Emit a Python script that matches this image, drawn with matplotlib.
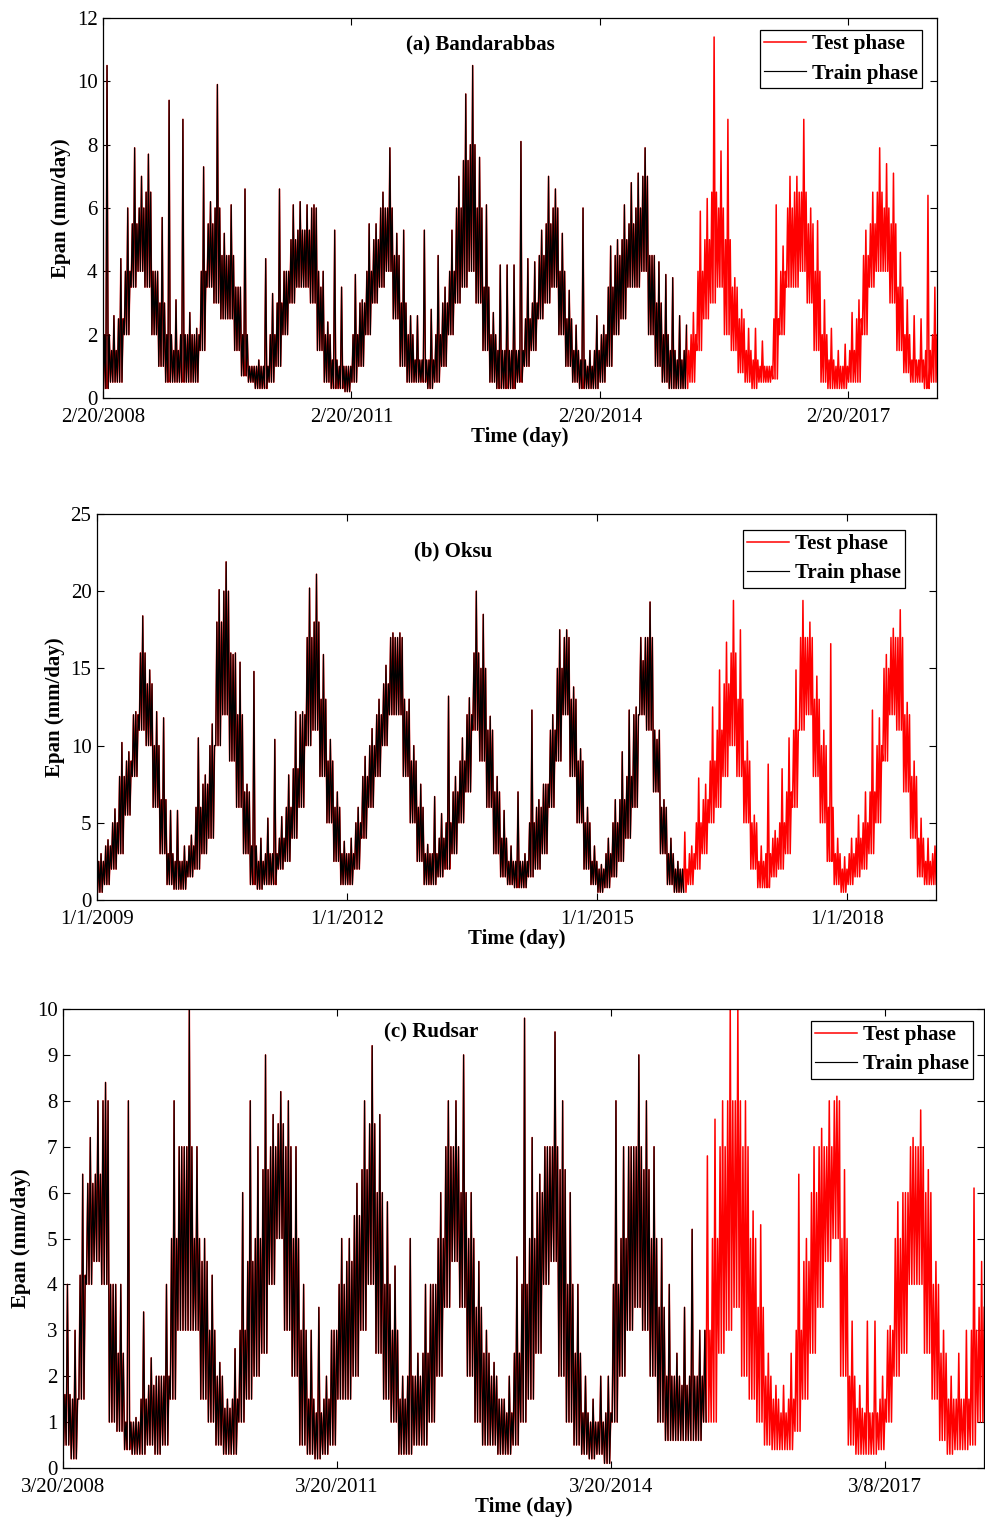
import numpy as np
from matplotlib import pyplot as plt

plt.rcParams['font.family'] = ['Liberation Serif', 'DejaVu Serif']
plt.rcParams['font.size'] = 15

# monthly readings: spike top, usual band top, usual band bottom (mm/day)
peak_a = [10.5, 2.6, 4.4, 6.0, 7.9, 7.0, 7.7, 4.0, 5.7, 9.4,
          3.1, 8.8, 2.7, 2.2, 7.3, 6.2, 9.9, 5.2, 6.1, 3.5,
          6.6, 1.0, 1.2, 4.4, 3.3, 6.6, 4.0, 6.1, 6.2, 6.1,
          6.1, 3.5, 2.4, 5.3, 3.5, 1.0, 3.9, 3.1, 5.5, 5.5,
          6.5, 7.9, 5.2, 5.3, 2.6, 2.6, 5.3, 2.8, 4.5, 3.5,
          5.3, 7.0, 9.6, 10.5, 7.6, 6.1, 2.7, 4.2, 4.2, 4.2,
          8.1, 4.4, 4.3, 5.3, 7.0, 6.6, 5.2, 3.4, 2.3, 6.0,
          1.5, 2.6, 2.3, 4.8, 5.0, 6.1, 6.8, 7.1, 7.9, 4.5,
          4.3, 3.9, 3.8, 2.6, 2.3, 2.7, 5.9, 6.3, 11.4, 7.8,
          8.8, 3.8, 2.8, 2.2, 2.2, 1.8, 1.0, 6.1, 4.8, 7.0,
          7.0, 8.8, 6.0, 5.6, 3.1, 2.2, 1.5, 1.7, 2.7, 3.1,
          5.3, 6.5, 7.9, 7.4, 7.1, 4.6, 3.1, 2.6, 2.5, 6.4,
          3.5]
hi_a = [2.0, 1.5, 2.5, 4.0, 5.5, 6.0, 6.5, 4.0, 3.0, 2.0,
        1.5, 2.0, 2.0, 2.0, 4.0, 5.5, 6.0, 4.5, 4.5, 3.5,
        2.0, 1.0, 1.0, 1.0, 2.0, 3.0, 4.0, 5.0, 5.3, 5.3,
        6.0, 4.0, 2.0, 1.2, 1.0, 1.0, 2.0, 3.0, 4.0, 5.0,
        6.0, 6.0, 4.5, 3.0, 2.0, 1.2, 1.2, 1.2, 2.0, 3.0,
        4.0, 6.0, 7.5, 8.0, 6.0, 3.5, 2.0, 1.5, 1.5, 1.5,
        1.5, 2.5, 3.0, 4.5, 5.5, 6.0, 4.0, 2.5, 1.5, 1.2,
        1.0, 1.5, 2.0, 3.5, 4.5, 5.0, 5.5, 6.0, 7.0, 4.5,
        3.0, 2.0, 1.5, 1.2, 1.5, 2.0, 4.0, 5.0, 6.5, 6.0,
        5.0, 3.5, 2.5, 1.5, 1.2, 1.0, 1.0, 2.5, 4.0, 6.0,
        6.5, 6.5, 5.5, 4.0, 2.0, 1.2, 1.0, 1.0, 1.5, 2.5,
        4.5, 5.5, 6.5, 6.0, 5.5, 3.5, 2.0, 1.2, 1.2, 1.5,
        2.0]
lo_a = [0.3, 0.5, 0.5, 2.0, 3.5, 4.0, 3.5, 2.0, 1.0, 0.5,
        0.5, 0.5, 0.5, 0.5, 1.5, 3.5, 3.0, 2.5, 2.5, 1.5,
        0.7, 0.5, 0.3, 0.3, 0.5, 1.0, 2.0, 3.0, 3.5, 3.5,
        3.0, 1.5, 0.5, 0.3, 0.3, 0.2, 0.5, 1.0, 2.0, 3.0,
        3.5, 4.0, 2.5, 1.0, 0.5, 0.5, 0.5, 0.3, 0.5, 1.0,
        2.0, 3.0, 3.5, 4.0, 3.0, 1.5, 0.5, 0.3, 0.3, 0.3,
        0.5, 1.0, 1.5, 2.5, 3.0, 3.5, 2.0, 1.0, 0.5, 0.3,
        0.3, 0.3, 0.5, 1.0, 2.0, 2.5, 3.5, 3.5, 4.0, 2.0,
        1.0, 0.5, 0.3, 0.3, 0.3, 0.5, 1.5, 2.5, 3.0, 3.5,
        2.0, 1.5, 0.8, 0.5, 0.3, 0.5, 0.5, 0.6, 2.0, 3.5,
        3.5, 4.0, 3.0, 1.5, 0.5, 0.3, 0.3, 0.3, 0.5, 0.5,
        2.0, 3.5, 4.0, 4.0, 3.0, 1.5, 0.8, 0.5, 0.5, 0.3,
        0.5]

peak_b = [3.0, 3.9, 5.9, 10.2, 9.6, 12.2, 18.4, 14.9, 12.2, 11.8,
          5.8, 5.8, 3.5, 4.2, 10.5, 8.1, 11.4, 20.1, 21.9, 15.9,
          15.4, 7.5, 14.8, 4.0, 5.3, 10.4, 5.4, 8.1, 12.2, 12.2,
          20.2, 21.1, 15.9, 10.4, 7.0, 3.8, 4.0, 6.0, 9.3, 11.1,
          13.0, 15.2, 17.3, 17.3, 12.2, 10.0, 7.5, 3.6, 6.7, 5.6,
          13.2, 8.0, 10.5, 13.1, 20.0, 18.5, 11.9, 8.0, 5.8, 3.5,
          7.0, 3.0, 12.3, 6.5, 7.5, 12.0, 17.5, 17.5, 13.8, 9.8,
          6.0, 3.5, 2.3, 4.0, 6.5, 9.6, 12.3, 12.5, 15.5, 19.3,
          10.4, 6.5, 4.0, 2.5, 4.4, 3.5, 7.9, 7.5, 12.5, 14.9,
          16.7, 19.4, 17.5, 10.3, 5.5, 3.5, 8.8, 4.5, 8.5, 10.5,
          14.9, 19.4, 18.0, 14.5, 11.0, 16.6, 4.0, 2.8, 4.0, 5.5,
          7.0, 12.3, 11.8, 15.9, 17.6, 18.8, 12.8, 9.0, 5.3, 4.0,
          3.5]
hi_b = [2.5, 3.5, 5.0, 8.0, 9.0, 12.0, 16.0, 14.0, 10.0, 6.5,
        3.0, 2.5, 2.5, 3.5, 6.0, 7.5, 10.0, 18.0, 20.0, 16.0,
        12.0, 7.0, 3.5, 2.5, 3.0, 3.0, 4.0, 6.0, 8.5, 12.0,
        17.0, 18.0, 13.0, 9.0, 6.0, 3.0, 3.0, 5.0, 8.0, 10.0,
        12.0, 14.0, 17.0, 17.0, 13.0, 9.0, 6.0, 3.0, 3.0, 4.0,
        5.0, 7.0, 9.0, 12.0, 16.0, 15.0, 11.0, 7.0, 4.0, 2.5,
        2.5, 2.5, 5.0, 6.0, 7.5, 11.0, 15.0, 17.0, 13.0, 9.0,
        5.0, 2.5, 2.0, 3.0, 5.0, 6.5, 8.0, 12.0, 17.0, 17.0,
        11.0, 6.0, 3.0, 2.0, 2.0, 3.0, 5.0, 6.5, 9.0, 11.0,
        14.0, 16.0, 13.0, 9.0, 5.0, 2.5, 3.0, 4.0, 5.0, 7.0,
        11.0, 17.0, 17.0, 13.0, 10.0, 6.0, 3.0, 2.0, 3.0, 4.0,
        5.0, 7.0, 10.0, 15.0, 17.0, 17.0, 12.0, 8.0, 4.0, 2.5,
        3.0]
lo_b = [0.5, 1.0, 2.0, 3.0, 5.5, 8.0, 11.0, 10.0, 6.0, 3.0,
        1.0, 0.7, 0.7, 1.5, 2.0, 3.0, 4.0, 10.0, 12.0, 9.0,
        6.0, 3.0, 1.0, 0.7, 1.0, 1.0, 2.0, 2.5, 4.0, 6.0,
        10.0, 11.0, 8.0, 5.0, 2.5, 1.0, 1.0, 2.0, 4.0, 6.0,
        8.0, 10.0, 12.0, 12.0, 8.0, 5.0, 2.5, 1.0, 1.0, 1.5,
        2.0, 3.0, 5.0, 7.0, 11.0, 9.0, 6.0, 3.0, 1.5, 1.0,
        0.8, 0.8, 1.5, 2.0, 3.0, 6.0, 9.0, 12.0, 8.0, 5.0,
        2.0, 1.0, 0.5, 0.8, 1.5, 2.5, 4.0, 6.0, 12.0, 11.0,
        7.0, 3.0, 1.0, 0.5, 0.5, 1.0, 2.0, 3.0, 5.0, 6.0,
        8.0, 10.0, 8.0, 5.0, 2.0, 0.8, 0.8, 1.5, 2.0, 3.0,
        6.0, 11.0, 12.0, 8.0, 5.0, 2.5, 1.0, 0.5, 1.0, 1.5,
        2.0, 3.0, 5.0, 9.0, 12.0, 11.0, 7.0, 4.0, 1.5, 1.0,
        1.0]

peak_c = [4.0, 3.0, 6.4, 7.2, 8.0, 8.4, 4.0, 4.0, 8.0, 1.1,
          3.4, 2.4, 2.0, 4.0, 8.0, 7.0, 10.0, 7.0, 5.0, 4.2,
          2.3, 1.5, 2.6, 6.0, 8.0, 7.0, 9.0, 7.7, 8.2, 8.0,
          7.0, 4.0, 3.0, 3.5, 2.0, 3.0, 5.0, 5.0, 6.2, 8.0,
          9.2, 7.7, 5.8, 4.4, 2.0, 5.0, 2.5, 4.0, 4.0, 6.0,
          8.0, 8.0, 9.0, 6.0, 4.5, 3.0, 2.3, 1.5, 2.0, 4.6,
          9.8, 7.2, 6.4, 7.0, 9.5, 8.0, 6.0, 4.0, 2.0, 1.5,
          2.0, 2.0, 8.0, 7.0, 7.0, 9.0, 8.0, 7.0, 5.0, 4.0,
          2.5, 3.5, 5.2, 3.0, 6.8, 7.6, 8.0, 10.0, 10.0, 8.0,
          5.6, 5.3, 2.5, 1.8, 1.8, 2.5, 6.4, 5.0, 7.0, 7.4,
          8.0, 8.1, 6.5, 3.2, 1.8, 3.2, 3.2, 2.0, 3.1, 5.8,
          6.0, 7.2, 7.8, 6.5, 4.5, 3.0, 2.0, 2.5, 3.0, 6.1,
          4.5]
hi_c = [1.6, 1.5, 4.2, 6.2, 6.4, 8.0, 4.0, 2.5, 1.0, 1.0,
        1.5, 1.8, 2.0, 2.0, 5.0, 7.0, 7.0, 5.0, 4.5, 3.0,
        2.0, 1.3, 1.5, 3.0, 4.5, 5.0, 6.5, 7.0, 7.5, 7.0,
        5.0, 3.0, 1.5, 1.2, 1.5, 3.0, 4.0, 4.5, 5.5, 6.5,
        7.5, 6.0, 4.0, 3.0, 1.5, 2.0, 2.0, 2.5, 4.0, 5.0,
        7.0, 7.0, 6.0, 5.0, 3.5, 2.5, 2.0, 1.5, 1.2, 2.5,
        4.0, 5.0, 6.0, 7.0, 7.0, 6.5, 4.0, 2.5, 1.2, 1.0,
        1.0, 1.2, 4.0, 5.0, 7.0, 7.0, 6.5, 5.0, 3.5, 2.0,
        2.0, 1.8, 2.0, 2.0, 3.0, 5.0, 7.0, 8.0, 8.0, 7.0,
        5.0, 3.5, 2.0, 1.5, 1.2, 1.5, 3.0, 4.5, 6.0, 7.0,
        7.0, 8.0, 5.0, 2.0, 1.3, 1.2, 1.2, 1.5, 3.0, 5.0,
        6.0, 7.0, 7.0, 6.0, 4.0, 2.5, 1.5, 1.5, 1.5, 3.0,
        3.5]
lo_c = [0.5, 0.2, 1.5, 4.0, 4.5, 4.0, 1.0, 0.8, 0.4, 0.3,
        0.3, 0.5, 0.3, 0.5, 1.5, 3.0, 3.0, 3.0, 1.5, 1.0,
        0.5, 0.3, 0.3, 1.0, 1.5, 2.0, 2.5, 4.0, 5.0, 3.0,
        2.0, 0.5, 0.3, 0.2, 0.3, 0.5, 1.5, 1.5, 2.0, 3.0,
        4.0, 2.5, 1.5, 1.0, 0.3, 0.3, 0.5, 0.5, 1.0, 2.0,
        3.5, 4.5, 3.5, 2.0, 1.0, 0.5, 0.5, 0.3, 0.3, 0.5,
        1.0, 1.5, 2.5, 4.0, 4.5, 2.0, 1.0, 0.5, 0.3, 0.2,
        0.3, 0.1, 1.0, 2.0, 3.0, 3.5, 3.0, 2.0, 1.0, 0.6,
        0.6, 0.6, 0.6, 0.6, 1.0, 1.0, 2.5, 3.0, 3.5, 2.0,
        1.5, 1.0, 0.5, 0.4, 0.4, 0.4, 0.8, 1.5, 2.5, 3.5,
        4.5, 5.0, 2.0, 0.5, 0.3, 0.3, 0.3, 0.4, 1.0, 2.0,
        2.5, 4.0, 4.0, 2.5, 1.5, 0.6, 0.3, 0.4, 0.4, 0.5,
        1.0]

# day index where the test phase begins
test_a, test_b, test_c = 2578, 2571, 2574

titles = ['(a) Bandarabbas', '(b) Oksu', '(c) Rudsar']
labels_a = ['2/20/2008', '2/20/2011', '2/20/2014', '2/20/2017']
labels_b = ['1/1/2009', '1/1/2012', '1/1/2015', '1/1/2018']
labels_c = ['3/20/2008', '3/20/2011', '3/20/2014', '3/8/2017']
ticks_a = [0, 1096, 2192, 3288]
ticks_b = [0, 1095, 2191, 3287]
ticks_c = [0, 1095, 2190, 3285]

MONTH = 30.44


def series(peak, hi, lo):
    xs, ys = [], []
    for m in range(len(peak)):
        vals = [lo[m], hi[m], lo[m], peak[m], lo[m], hi[m]]
        for k, v in enumerate(vals):
            xs.append(m * MONTH + (k + 0.5) * MONTH / 6)
            ys.append(v)
    return np.array(xs), np.array(ys)


fig = plt.figure(figsize=(9.85, 15.18), dpi=100)

panels = [
    ([103, 937, 18, 398], (peak_a, hi_a, lo_a), test_a, ticks_a, labels_a,
     3680, 12, np.arange(0, 13, 2), (0.453, 0.93), (0.982, 0.968)),
    ([97, 936, 514, 900], (peak_b, hi_b, lo_b), test_b, ticks_b, labels_b,
     3675, 25, np.arange(0, 26, 5), (0.424, 0.904), (0.963, 0.959)),
    ([63, 984, 1009, 1468], (peak_c, hi_c, lo_c), test_c, ticks_c, labels_c,
     3680, 10, np.arange(0, 11, 1), (0.40, 0.952), (0.988, 0.974)),
]

W, H = 985, 1518
for i, (box, data, test, ticks, labels, xmax, ymax, yticks, tpos, lpos) in enumerate(panels):
    x0, x1, y0, y1 = box
    ax = fig.add_axes([x0 / W, 1 - y1 / H, (x1 - x0) / W, (y1 - y0) / H])
    x, y = series(*data)
    train = x < test
    ax.plot(x, y, color='red', lw=1.1, label='Test phase')
    ax.plot(x[train], y[train], color='black', lw=0.85, label='Train phase')
    ax.set_xlim(0, xmax)
    ax.set_ylim(0, ymax)
    ax.set_xticks(ticks)
    ax.set_xticklabels(labels)
    ax.set_yticks(yticks)
    ax.tick_params(direction='in', top=True, right=True, length=5, width=0.8)
    ax.tick_params(axis='x', pad=7.5)
    ax.tick_params(axis='y', pad=4)
    for s in ax.spines.values():
        s.set_linewidth(0.9)
    ax.set_xlabel('Time (day)', fontweight='bold', labelpad=0)
    ax.set_ylabel('Epan (mm/day)', fontweight='bold')
    ax.text(tpos[0], tpos[1], titles[i], transform=ax.transAxes,
            ha='center', va='center', fontweight='bold')
    leg = ax.legend(loc='upper right', bbox_to_anchor=lpos, borderaxespad=0,
                    fancybox=False, framealpha=1, edgecolor='black',
                    handlelength=2.0, handletextpad=0.3, borderpad=0.2,
                    labelspacing=0.45, prop={'weight': 'bold', 'size': 15})
    leg.get_frame().set_linewidth(0.9)

fig.savefig('out.png', dpi=100)
